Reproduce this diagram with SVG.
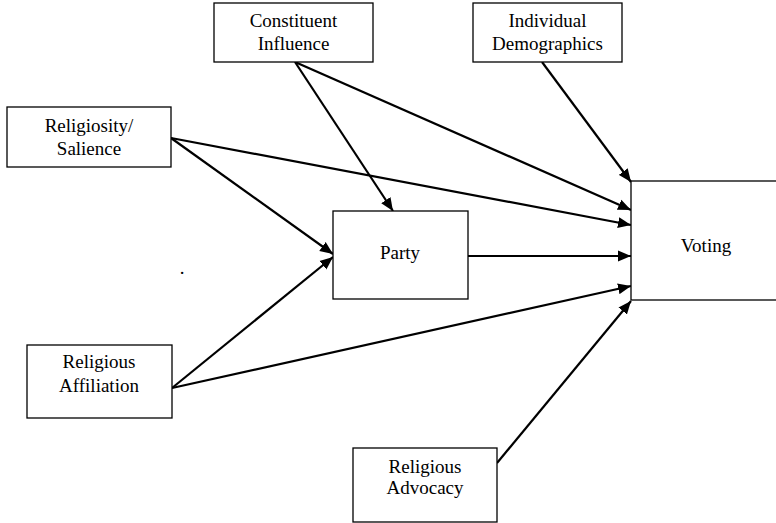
<svg xmlns="http://www.w3.org/2000/svg" width="776" height="523" viewBox="0 0 776 523">
<style>
.box{fill:#fff;stroke:#000;stroke-width:1.3}
.lbl{font-family:'Liberation Serif','DejaVu Serif','Times New Roman',Times,serif;font-size:19px;fill:#000;text-anchor:middle}
.edge{stroke:#000;stroke-width:2.2;fill:none;marker-end:url(#ah)}
</style>
<defs>
<marker id="ah" markerUnits="userSpaceOnUse" markerWidth="14" markerHeight="12" refX="13" refY="5.5" orient="auto" viewBox="0 0 14 11">
<path d="M0,0 L13,5.5 L0,11 Z" fill="#000"/>
</marker>
</defs>
<rect width="776" height="523" fill="#fff"/>
<g id="connectors">
<line class="edge" x1="295" y1="62" x2="393" y2="211"/>
<line class="edge" x1="295" y1="62" x2="631" y2="210"/>
<line class="edge" x1="542" y1="62" x2="631" y2="182"/>
<line class="edge" x1="171" y1="138" x2="333" y2="254"/>
<line class="edge" x1="171" y1="138" x2="631" y2="225"/>
<line class="edge" x1="172" y1="388" x2="333" y2="257"/>
<line class="edge" x1="172" y1="388" x2="631" y2="286"/>
<line class="edge" x1="468" y1="256" x2="631" y2="256"/>
<line class="edge" x1="497" y1="463" x2="631" y2="301"/>
</g>
<g id="constituent">
<rect class="box" x="214" y="3" width="159" height="59"/>
<text class="lbl" x="293.5" y="27">Constituent</text>
<text class="lbl" x="293.5" y="50">Influence</text>
</g>
<g id="demographics">
<rect class="box" x="473" y="3" width="149" height="59"/>
<text class="lbl" x="547.5" y="27">Individual</text>
<text class="lbl" x="547.5" y="50">Demographics</text>
</g>
<g id="religiosity">
<rect class="box" x="7" y="107" width="164" height="60"/>
<text class="lbl" x="89" y="132">Religiosity/</text>
<text class="lbl" x="89" y="155">Salience</text>
</g>
<g id="affiliation">
<rect class="box" x="27" y="345" width="145" height="73"/>
<text class="lbl" x="99" y="368">Religious</text>
<text class="lbl" x="99" y="392">Affiliation</text>
</g>
<g id="party">
<rect class="box" x="333" y="211" width="135" height="88"/>
<text class="lbl" x="400" y="259">Party</text>
</g>
<g id="voting">
<rect class="box" x="631" y="181" width="160" height="119"/>
<text class="lbl" x="706" y="252">Voting</text>
</g>
<g id="advocacy">
<rect class="box" x="353" y="448" width="144" height="74"/>
<text class="lbl" x="425" y="473">Religious</text>
<text class="lbl" x="425" y="494">Advocacy</text>
</g>
<text class="lbl" x="182" y="274">.</text>
</svg>
